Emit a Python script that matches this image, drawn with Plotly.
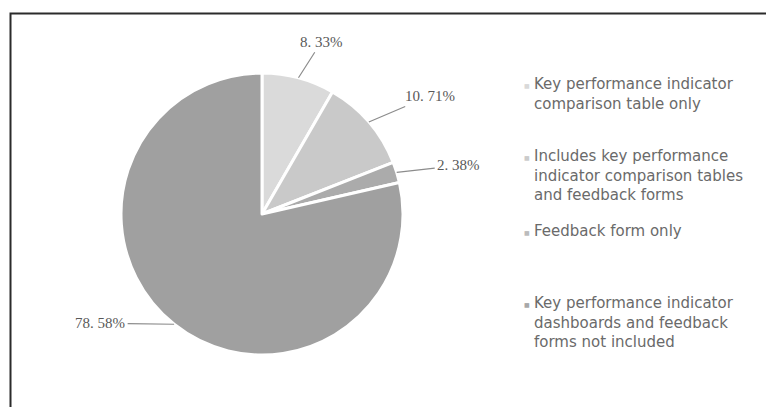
import math
import plotly.graph_objects as go

W, H = 766, 407

categories = [
    "Key performance indicator comparison table only",
    "Includes key performance indicator comparison tables and feedback forms",
    "Feedback form only",
    "Key performance indicator dashboards and feedback forms not included",
]
legend_lines = [
    ["Key performance indicator", "comparison table only"],
    ["Includes key performance", "indicator comparison tables", "and feedback forms"],
    ["Feedback form only"],
    ["Key performance indicator", "dashboards and feedback", "forms not included"],
]
values = [8.33, 10.71, 2.38, 78.58]
colors = ["#dadada", "#c9c9c9", "#ababab", "#a0a0a0"]
legend_colors = ["#d9d9d9", "#cbcbcb", "#bcbcbc", "#a8a8a8"]

# pie geometry (pixels)
cx, cy, r = 262, 214, 141
# label text centre offsets from the slice edge point (pixels)
label_offsets = [(23, -36), (61, -26), (62, -7), (-74, -1)]
# vertical centre of each legend entry and of its first line (pixels)
legend_mids = [94.5, 175.7, 231, 322.7]
legend_first = [85, 156.5, 231, 303.5]
legend_x = 533

fig = go.Figure(
    go.Pie(
        labels=categories,
        values=values,
        sort=False,
        direction="clockwise",
        rotation=0,
        textinfo="none",
        hoverinfo="label+percent",
        marker=dict(colors=colors, line=dict(color="white", width=3)),
        domain=dict(
            x=[(cx - r) / W, (cx + r) / W],
            y=[(H - cy - r) / H, (H - cy + r) / H],
        ),
        showlegend=False,
    )
)

annotations = []
total = sum(values)
cum = 0.0
for v, (ox, oy) in zip(values, label_offsets):
    mid = (cum + v / 2) / total * 2 * math.pi
    cum += v
    px = cx + r * math.sin(mid)
    py = cy - r * math.cos(mid)
    annotations.append(
        dict(
            x=px / W,
            y=1 - py / H,
            xref="paper",
            yref="paper",
            text=f"{v:.2f}%".replace(".", ". "),
            showarrow=True,
            arrowhead=0,
            arrowwidth=1.2,
            arrowcolor="#8c8c8c",
            ax=ox,
            ay=oy,
            borderpad=2,
            font=dict(family="Liberation Serif", size=15, color="#595959"),
        )
    )

for lines, mid, first, col in zip(legend_lines, legend_mids, legend_first, legend_colors):
    annotations.append(
        dict(
            x=legend_x / W,
            y=1 - mid / H,
            xref="paper",
            yref="paper",
            xanchor="left",
            yanchor="middle",
            align="left",
            showarrow=False,
            borderpad=0,
            text="<br>".join(lines),
            font=dict(family="DejaVu Sans", size=15, color="#6a6a6a"),
        )
    )
    annotations.append(
        dict(
            x=(legend_x - 6) / W,
            y=1 - (first + 1) / H,
            xref="paper",
            yref="paper",
            xanchor="center",
            yanchor="middle",
            showarrow=False,
            text="■",
            font=dict(family="DejaVu Sans", size=6, color=col),
        )
    )

fig.update_layout(
    width=W,
    height=H,
    margin=dict(l=0, r=0, t=0, b=0),
    paper_bgcolor="white",
    plot_bgcolor="white",
    annotations=annotations,
    shapes=[
        dict(
            type="rect",
            xref="paper",
            yref="paper",
            x0=10.5 / W,
            x1=1.05,
            y0=-0.05,
            y1=1 - 13.5 / H,
            line=dict(color="#2b2b2b", width=2),
            fillcolor="rgba(0,0,0,0)",
            layer="below",
        )
    ],
)

fig.write_html("out.html")
